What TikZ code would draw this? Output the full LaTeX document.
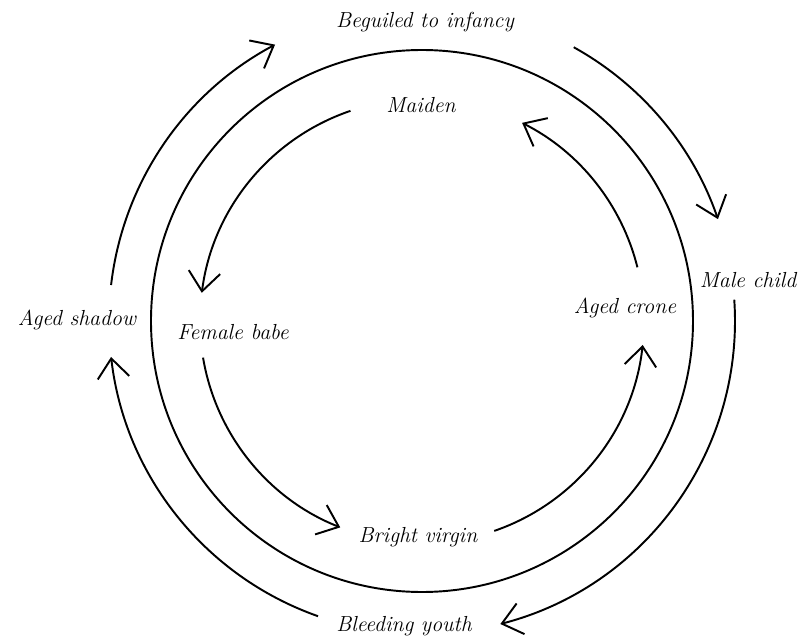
\documentclass[tikz,border=0pt]{standalone}
\usepackage{tikz}
\usetikzlibrary{arrows.meta}

\begin{document}
\begin{tikzpicture}[x=0.02cm, y=0.02cm,
    lab/.style={font=\itshape\fontsize{12.4}{15}\selectfont, inner sep=1pt},
    ring/.style={line width=1.1pt},
    arr/.style={-{Straight Barb[length=11pt, width=18pt]}, line width=1.1pt}
]
\useasboundingbox (-422,-319) rectangle (384,321);
\coordinate (c) at (0,0);
\draw[ring] (c) circle[radius=271];

% labels
\node[lab] (beguiled) at (3,299) {Beguiled to infancy};
\node[lab] (male) at (326,41) {Male child};
\node[lab] (youth) at (-18,-305) {Bleeding youth};
\node[lab] (shadow) at (-345,1) {Aged shadow};
\node[lab] (maiden) at (-1,216) {Maiden};
\node[lab] (babe) at (-189,-11) {Female babe};
\node[lab] (virgin) at (-4,-216) {Bright virgin};
\node[lab] (crone) at (203,13) {Aged crone};

% outer cycle, clockwise
\coordinate (o1) at (173.4:313);
\coordinate (o2) at (61:313);
\coordinate (o3) at (3.9:313);
\coordinate (o4) at (250.6:313);
\draw[arr] (o1) arc[start angle=173.4, end angle=118, radius=313];
\draw[arr] (o2) arc[start angle=61, end angle=19, radius=313];
\draw[arr] (o3) arc[start angle=3.9, end angle=-75.5, radius=313];
\draw[arr] (o4) arc[start angle=250.6, end angle=186.6, radius=313];

% inner cycle, counterclockwise
\coordinate (i1) at (108.8:222);
\coordinate (i2) at (189.5:222);
\coordinate (i3) at (289:222);
\coordinate (i4) at (14:222);
\draw[arr] (i1) arc[start angle=108.8, end angle=172.7, radius=222];
\draw[arr] (i2) arc[start angle=189.5, end angle=248.4, radius=222];
\draw[arr] (i3) arc[start angle=289, end angle=353.8, radius=222];
\draw[arr] (i4) arc[start angle=14, end angle=63.2, radius=222];
\end{tikzpicture}
\end{document}
